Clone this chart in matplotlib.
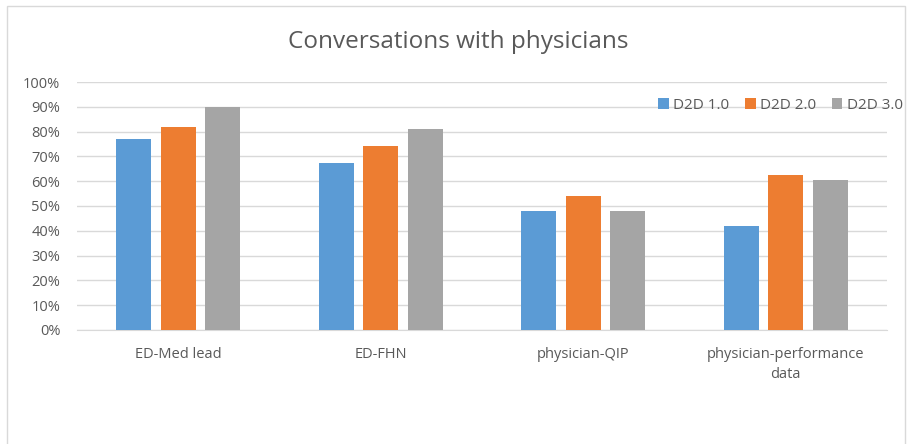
import numpy as np
import matplotlib
matplotlib.use("Agg")
import matplotlib.pyplot as plt
from matplotlib.patches import Rectangle
from matplotlib.ticker import PercentFormatter

categories = ["ED-Med lead", "ED-FHN", "physician-QIP", "physician-performance\ndata"]
series_names = ["D2D 1.0", "D2D 2.0", "D2D 3.0"]
d2d_1 = [77, 67.5, 48, 42]
d2d_2 = [82, 74, 54, 62.5]
d2d_3 = [90, 81, 48, 60.5]
colors = ["#5B9BD5", "#ED7D31", "#A5A5A5"]

plt.rcParams["font.family"] = ["Open Sans", "DejaVu Sans"]
TEXT = "#595959"
GRID = "#D9D9D9"

fig = plt.figure(figsize=(9.11, 4.44), dpi=100)
ax = fig.add_axes([0.0845, 0.2568, 0.8892, 0.5585])

# marco del gráfico
fig.patches.append(Rectangle((7 / 911, -0.01), 898 / 911, 1 - 6 / 444 + 0.01,
                             transform=fig.transFigure, fill=False,
                             edgecolor=GRID, linewidth=1.0))

x = np.arange(len(categories))
offsets = [-0.22, 0.0, 0.22]
for vals, name, off, c in zip([d2d_1, d2d_2, d2d_3], series_names, offsets, colors):
    ax.bar(x + off, vals, width=0.172, color=c, label=name, zorder=3)

ax.set_xlim(-0.5, len(categories) - 0.5)
ax.set_ylim(0, 100)
ax.set_yticks(np.arange(0, 101, 10))
ax.yaxis.set_major_formatter(PercentFormatter(decimals=0))
ax.set_xticks(x)
ax.set_xticklabels(categories, fontsize=10.5, color=TEXT, linespacing=1.5)
ax.tick_params(axis="y", labelsize=10.5, labelcolor=TEXT, length=0, pad=12)
ax.tick_params(axis="x", length=0, pad=12)

ax.grid(axis="y", color=GRID, linewidth=1.0, zorder=0)
for s in ["top", "right", "left"]:
    ax.spines[s].set_visible(False)
ax.spines["bottom"].set_color(GRID)

fig.text(0.503, 0.905, "Conversations with physicians", ha="center", va="center",
         fontsize=17.5, color=TEXT)

ax.legend(loc="center right", bbox_to_anchor=(1.027, 0.905), ncol=3, frameon=False,
          fontsize=11, labelcolor=TEXT, handlelength=0.7, handleheight=0.7,
          handletextpad=0.3, columnspacing=1.0, borderaxespad=0)

fig.savefig("out.png", dpi=100)
